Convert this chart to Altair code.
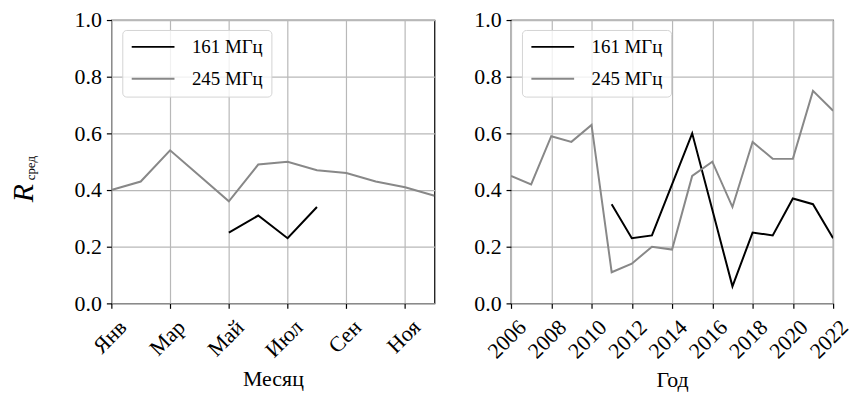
import altair as alt
import pandas as pd

# Monthly averages
months = list(range(1, 13))
month_names = ["Янв", "Фев", "Мар", "Апр", "Май", "Июн",
               "Июл", "Авг", "Сен", "Окт", "Ноя", "Дек"]
month_245 = [0.40, 0.43, 0.54, 0.45, 0.36, 0.49, 0.50, 0.47, 0.46, 0.43, 0.41, 0.38]
months_161 = [5, 6, 7, 8]
month_161 = [0.25, 0.31, 0.23, 0.34]

# Yearly averages
years = list(range(2006, 2023))
year_245 = [0.45, 0.42, 0.59, 0.57, 0.63, 0.11, 0.14, 0.20, 0.19, 0.45,
            0.50, 0.34, 0.57, 0.51, 0.51, 0.75, 0.68]
years_161 = list(range(2011, 2023))
year_161 = [0.35, 0.23, 0.24, 0.42, 0.60, 0.33, 0.06, 0.25, 0.24, 0.37, 0.35, 0.23]

series = ["161 МГц", "245 МГц"]
series_colors = ["#000000", "#888888"]

FONT = "Times New Roman, Liberation Serif, serif"

monthly = pd.concat([
    pd.DataFrame({"x": months_161, "r": month_161, "s": series[0]}),
    pd.DataFrame({"x": months, "r": month_245, "s": series[1]}),
])
yearly = pd.concat([
    pd.DataFrame({"x": years_161, "r": year_161, "s": series[0]}),
    pd.DataFrame({"x": years, "r": year_245, "s": series[1]}),
])

color = alt.Color(
    "s:N",
    scale=alt.Scale(domain=series, range=series_colors),
    legend=alt.Legend(
        title=None, orient="none", legendX=11, legendY=10,
        symbolType="stroke", symbolSize=1850, symbolStrokeWidth=2, clipHeight=18,
        labelFont=FONT, labelFontSize=19, labelColor="black", labelOffset=16,
        rowPadding=13, padding=8, cornerRadius=4,
        strokeColor="#d4d4d4", fillColor="rgba(255,255,255,0.8)",
    ),
)

y_enc = alt.Y(
    "r:Q",
    scale=alt.Scale(domain=[0, 1], nice=False),
    axis=alt.Axis(values=[0, 0.2, 0.4, 0.6, 0.8, 1.0], format=".1f", title=None),
)

W, H = 325, 285

month_label_expr = "[" + ",".join(f"'{m}'" for m in month_names) + "][datum.value - 1]"

left_lines = alt.Chart(monthly).mark_line(strokeWidth=2, clip=True).encode(
    x=alt.X("x:Q", scale=alt.Scale(domain=[1, 12], nice=False),
            axis=alt.Axis(values=[1, 3, 5, 7, 9, 11], labelExpr=month_label_expr,
                          title="Месяц")),
    y=y_enc,
    color=color,
    detail="s:N",
)

# Y-axis title: italic R with a small subscript
r_title = alt.Chart(pd.DataFrame({"t": ["R"]})).mark_text(
    font=FONT, fontSize=30, fontStyle="italic", angle=270, color="black"
).encode(x=alt.value(-88), y=alt.value(174), text="t:N")
r_sub = alt.Chart(pd.DataFrame({"t": ["сред"]})).mark_text(
    font=FONT, fontSize=13, angle=270, color="black"
).encode(x=alt.value(-81), y=alt.value(149), text="t:N")

left = alt.layer(left_lines, r_title, r_sub).properties(width=W, height=H)

right = alt.Chart(yearly).mark_line(strokeWidth=2, clip=True).encode(
    x=alt.X("x:Q", scale=alt.Scale(domain=[2006, 2022], nice=False),
            axis=alt.Axis(values=list(range(2006, 2023, 2)), format="d", title="Год")),
    y=y_enc,
    color=color,
    detail="s:N",
).properties(width=324, height=H)

chart = alt.hconcat(left, right, spacing=37).resolve_scale(
    color="shared"
).resolve_legend(color="independent").configure(
    padding={"left": 8, "top": 7, "right": 0, "bottom": 0},
    background="white",
).configure_view(
    stroke="black", strokeWidth=1.2,
).configure_axis(
    labelFont=FONT, labelFontSize=22, labelColor="black",
    titleFont=FONT, titleFontSize=22, titleColor="black", titleFontWeight="normal",
    domain=False, ticks=True, tickColor="black", tickSize=5, tickWidth=1.2,
    grid=True, gridColor="#b8b8b8", gridWidth=1.2,
    labelPadding=5, labelOverlap=False,
).configure_axisX(
    labelAngle=-45, labelAlign="right", labelBaseline="top", labelOffset=4,
    labelPadding=8, titlePadding=8,
)

chart.save("out.html", embed_options={"renderer": "svg", "actions": False})
